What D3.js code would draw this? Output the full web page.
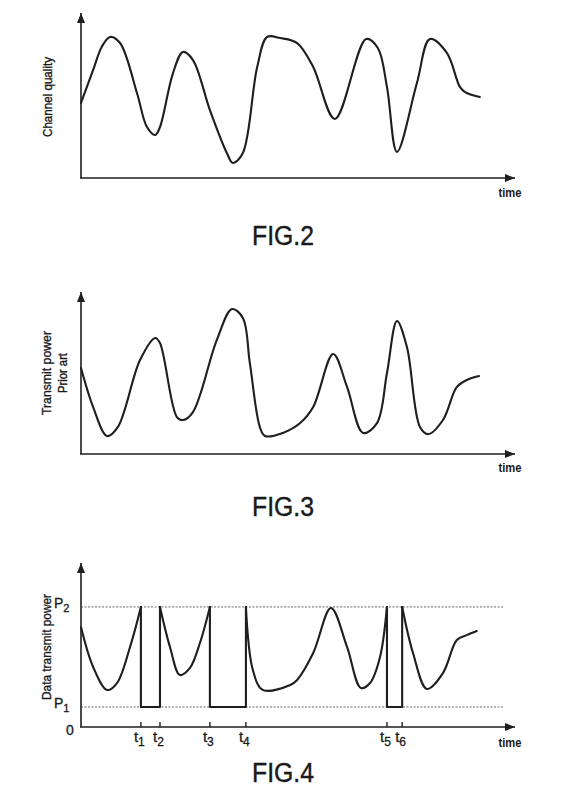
<!DOCTYPE html>
<html>
<head>
<meta charset="utf-8">
<script src="https://cdn.jsdelivr.net/npm/d3@7"></script>
<style>
  html, body { margin: 0; padding: 0; background: #fff; }
  svg { display: block; }
  text { font-family: "Liberation Sans", Arial, sans-serif; fill: #1a1a1a; }
</style>
</head>
<body>
<svg id="chart" width="567" height="801"></svg>
<script>
// ---------- DATA ----------
// FIG.2 channel quality over time
const fig2Time    = [0, 2.8, 4.8, 6.7, 9.0, 12.9, 15.2, 17.1, 18.2, 21.2, 23.5, 25.8, 29.7, 33.6, 35.0, 37.3, 40.6, 42.9, 45.9, 49.8, 53.5, 58.5, 65.7, 68.4, 70.5, 72.8, 77.4, 80.4, 84.3, 87.3, 88.5, 91.9];
const fig2Quality = [45.5, 65.5, 79.6, 85.5, 81.8, 51.5, 30.9, 26.1, 30.9, 63.6, 76.4, 71.5, 41.2, 15.2, 9.1, 15.2, 67.3, 85.5, 84.8, 81.8, 67.3, 35.8, 84.2, 78.8, 55.2, 15.8, 57.6, 84.2, 75.8, 55.2, 52.1, 49.1];

// FIG.3 transmit power, prior art
const fig3Time  = [0, 2.8, 6.0, 8.5, 13.6, 17.1, 18.2, 22.1, 23.5, 25.8, 31.3, 34.8, 37.3, 38.9, 41.2, 42.4, 46.5, 50.5, 53.5, 58.1, 61.3, 65.0, 68.2, 70.5, 72.8, 75.1, 78.1, 80.0, 83.4, 86.6, 88.9, 91.7];
const fig3Power = [53.1, 29.0, 11.1, 16.7, 58.0, 71.6, 68.5, 22.8, 21.0, 25.9, 70.4, 89.5, 84.0, 56.2, 16.7, 11.1, 13.0, 19.1, 29.0, 61.7, 41.4, 13.0, 19.1, 50.0, 82.1, 66.0, 16.7, 12.3, 21.0, 41.4, 45.7, 48.1];

// FIG.4 data transmit power
const powerLevels = [12.2, 73.2];               // P1, P2
const powerLabels = ["1", "2"];
const switchTimes = [13.8, 18.2, 29.7, 38.0, 70.5, 74.0];   // t1..t6
const switchLabels = ["1", "2", "3", "4", "5", "6"];
const fig4Seg1Time  = [0, 2.8, 6.0, 8.3, 11.3, 13.8];
const fig4Seg1Power = [61.0, 36.6, 22.6, 26.8, 48.8, 73.2];
const fig4Seg2Time  = [18.2, 20.5, 22.8, 25.1, 27.4, 29.7];
const fig4Seg2Power = [73.2, 48.8, 31.7, 36.0, 51.2, 73.2];
const fig4Seg3Time  = [38.0, 39.6, 41.9, 48.2, 49.8, 53.5, 57.6, 61.3, 64.5, 66.6, 68.9, 70.5];
const fig4Seg3Power = [73.2, 34.8, 22.6, 25.6, 28.7, 45.1, 72.6, 48.8, 23.8, 26.8, 42.7, 73.2];
const fig4Seg4Time  = [74.0, 76.5, 79.7, 83.4, 86.6, 88.9, 91.2];
const fig4Seg4Power = [73.2, 45.1, 23.2, 32.9, 53.0, 56.0, 58.5];
const levelLineEnd = 97.2;

const figTitles = ["FIG.2", "FIG.3", "FIG.4"];
const axisLabelTime = "time";

// ---------- DRAW ----------
const svg = d3.select("#chart");
const INK = "#1e1e1e";

const defs = svg.append("defs");
defs.append("marker")
  .attr("id", "arrow")
  .attr("markerUnits", "userSpaceOnUse")
  .attr("viewBox", "0 0 10 8")
  .attr("refX", 10).attr("refY", 4)
  .attr("markerWidth", 10).attr("markerHeight", 8)
  .attr("orient", "auto")
  .append("path").attr("d", "M0,0 L10,4 L0,8 Z").attr("fill", INK);

const x = d3.scaleLinear().domain([0, 100]).range([81, 515]);

function drawAxes(g, y, timeBaseline) {
  g.append("line")
    .attr("x1", x(0)).attr("y1", y(0)).attr("x2", x(0)).attr("y2", y(100))
    .attr("stroke", INK).attr("stroke-width", 1.6).attr("marker-end", "url(#arrow)");
  g.append("line")
    .attr("x1", x(0) - 1).attr("y1", y(0)).attr("x2", x(100)).attr("y2", y(0))
    .attr("stroke", INK).attr("stroke-width", 1.6).attr("marker-end", "url(#arrow)");
  g.append("text")
    .attr("x", 510).attr("y", timeBaseline)
    .attr("text-anchor", "middle")
    .attr("font-size", 13).attr("font-weight", "bold")
    .attr("textLength", 23).attr("lengthAdjust", "spacingAndGlyphs")
    .text(axisLabelTime);
}

function curve(g, times, values, y, kind) {
  const line = d3.line()
    .x(d => x(d[0])).y(d => y(d[1]))
    .curve(kind || d3.curveCatmullRom.alpha(0.5));
  g.append("path")
    .datum(times.map((t, i) => [t, values[i]]))
    .attr("d", line)
    .attr("fill", "none").attr("stroke", INK)
    .attr("stroke-width", 2.1).attr("stroke-linejoin", "round").attr("stroke-linecap", "round");
}

function yLabel(g, lines, cy) {
  lines.forEach(l => {
    g.append("text")
      .attr("transform", `translate(${l.bx},${cy}) rotate(-90)`)
      .attr("text-anchor", "middle")
      .attr("font-size", 12.5)
      .attr("stroke", "#1a1a1a").attr("stroke-width", 0.35)
      .attr("textLength", l.len).attr("lengthAdjust", "spacingAndGlyphs")
      .text(l.text);
  });
}

function title(g, text, baseline) {
  g.append("text")
    .attr("x", 283).attr("y", baseline)
    .attr("text-anchor", "middle")
    .attr("font-size", 27)
    .attr("stroke", "#1a1a1a").attr("stroke-width", 0.4)
    .attr("textLength", 62).attr("lengthAdjust", "spacingAndGlyphs")
    .text(text);
}

// FIG.2
const y2 = d3.scaleLinear().domain([0, 100]).range([178, 13]);
const g2 = svg.append("g");
drawAxes(g2, y2, 197);
curve(g2, fig2Time, fig2Quality, y2);
yLabel(g2, [{ text: "Channel quality", bx: 52, len: 80 }], 97);
title(g2, figTitles[0], 245);

// FIG.3
const y3 = d3.scaleLinear().domain([0, 100]).range([454, 292]);
const g3 = svg.append("g");
drawAxes(g3, y3, 472);
curve(g3, fig3Time, fig3Power, y3);
yLabel(g3, [{ text: "Transmit power", bx: 51, len: 84 }, { text: "Prior art", bx: 67, len: 40 }], 373);
title(g3, figTitles[1], 516);

// FIG.4
const y4 = d3.scaleLinear().domain([0, 100]).range([727, 563]);
const g4 = svg.append("g");

// reference levels P1 / P2
powerLevels.forEach((p, i) => {
  g4.append("line")
    .attr("x1", x(0)).attr("x2", x(levelLineEnd))
    .attr("y1", y4(p)).attr("y2", y4(p))
    .attr("stroke", "#666").attr("stroke-width", 1)
    .attr("stroke-dasharray", "2,1.5");
  const t = g4.append("text")
    .attr("x", 54).attr("y", y4(p) + 1)
    .attr("font-size", 14)
    .attr("stroke", "#1a1a1a").attr("stroke-width", 0.3);
  t.append("tspan").text("P");
  t.append("tspan").attr("dy", 4).attr("font-size", 11).text(powerLabels[i]);
});

drawAxes(g4, y4, 747);
g4.append("text").attr("x", 70).attr("y", 735).attr("text-anchor", "middle")
  .attr("font-size", 14).attr("stroke", "#1a1a1a").attr("stroke-width", 0.3).text("0");

// ticks t1..t6
switchTimes.forEach((s, i) => {
  g4.append("line")
    .attr("x1", x(s)).attr("x2", x(s))
    .attr("y1", y4(0)).attr("y2", y4(0) - 5)
    .attr("stroke", INK).attr("stroke-width", 1.4);
  const t = g4.append("text")
    .attr("x", x(s) - 7).attr("y", 742)
    .attr("font-size", 15)
    .attr("stroke", "#1a1a1a").attr("stroke-width", 0.3);
  t.append("tspan").text("t");
  t.append("tspan").attr("dy", 4).attr("font-size", 12).text(switchLabels[i]);
});

// curve segments
curve(g4, fig4Seg1Time, fig4Seg1Power, y4);
curve(g4, fig4Seg2Time, fig4Seg2Power, y4);
curve(g4, fig4Seg3Time, fig4Seg3Power, y4);
curve(g4, fig4Seg4Time, fig4Seg4Power, y4);

// low-power windows between switch times
for (let k = 0; k < switchTimes.length; k += 2) {
  const a = switchTimes[k], b = switchTimes[k + 1];
  curve(g4, [a, a, b, b], [powerLevels[1], powerLevels[0], powerLevels[0], powerLevels[1]], y4, d3.curveLinear);
}

yLabel(g4, [{ text: "Data transmit power", bx: 51, len: 106 }], 647);
title(g4, figTitles[2], 782);
</script>
</body>
</html>
